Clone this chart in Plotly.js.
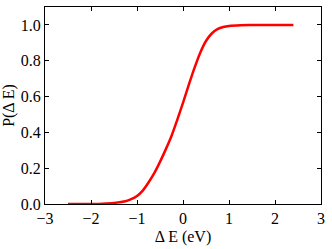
<!DOCTYPE html>
<html>
<head>
<meta charset="utf-8">
<script src="https://cdn.plot.ly/plotly-3.0.1.min.js"></script>
<style>html,body{margin:0;padding:0;background:#fff;}#chart{width:332px;height:249px;}</style>
</head>
<body>
<div id="chart"></div>
<script>
const deltaE = [-2.5, -2.25, -2.0, -1.75, -1.5, -1.25, -1.125, -1.0, -0.875, -0.75, -0.625, -0.5, -0.375, -0.25, -0.125, 0.0, 0.125, 0.25, 0.375, 0.5, 0.625, 0.75, 0.875, 1.0, 1.25, 1.5, 2.0, 2.4];
const prob   = [0.0, 0.0, 0.0005, 0.002, 0.006, 0.015, 0.027, 0.045, 0.075, 0.12, 0.172, 0.235, 0.305, 0.38, 0.47, 0.565, 0.665, 0.76, 0.845, 0.91, 0.952, 0.976, 0.988, 0.994, 0.998, 0.999, 1.0, 1.0];
const xTicks = [-3, -2, -1, 0, 1, 2, 3];
const yTicks = [0.0, 0.2, 0.4, 0.6, 0.8, 1.0];

const font = {family: 'Liberation Serif, Times New Roman, serif', size: 16, color: '#000'};
const axisCommon = {
  showgrid: false, zeroline: false, showline: true, linecolor: '#000', linewidth: 1,
  mirror: 'allticks', ticks: 'inside', ticklen: 4, tickwidth: 1, tickcolor: '#000',
  tickfont: font
};
const layout = {
  width: 332, height: 249,
  margin: {l: 45, r: 11, t: 7, b: 45},
  paper_bgcolor: '#fff', plot_bgcolor: '#fff',
  showlegend: false,
  font: font,
  xaxis: Object.assign({}, axisCommon, {
    range: [-3, 3], tickvals: xTicks, ticktext: xTicks.map(v => v < 0 ? '\u2212' + Math.abs(v) : String(v)),
    title: {text: 'Δ E (eV)', font: font, standoff: 4}
  }),
  yaxis: Object.assign({}, axisCommon, {
    range: [0, 1.1], tickvals: yTicks, ticktext: yTicks.map(v => v.toFixed(1)),
    title: {text: 'P(Δ E)', font: font, standoff: 4}
  })
};
Plotly.newPlot('chart', [{
  x: deltaE, y: prob, type: 'scatter', mode: 'lines',
  line: {color: '#ff0000', width: 2.5, shape: 'spline', smoothing: 0.8},
  hoverinfo: 'skip'
}], layout, {displayModeBar: false, staticPlot: true});
</script>
</body>
</html>
